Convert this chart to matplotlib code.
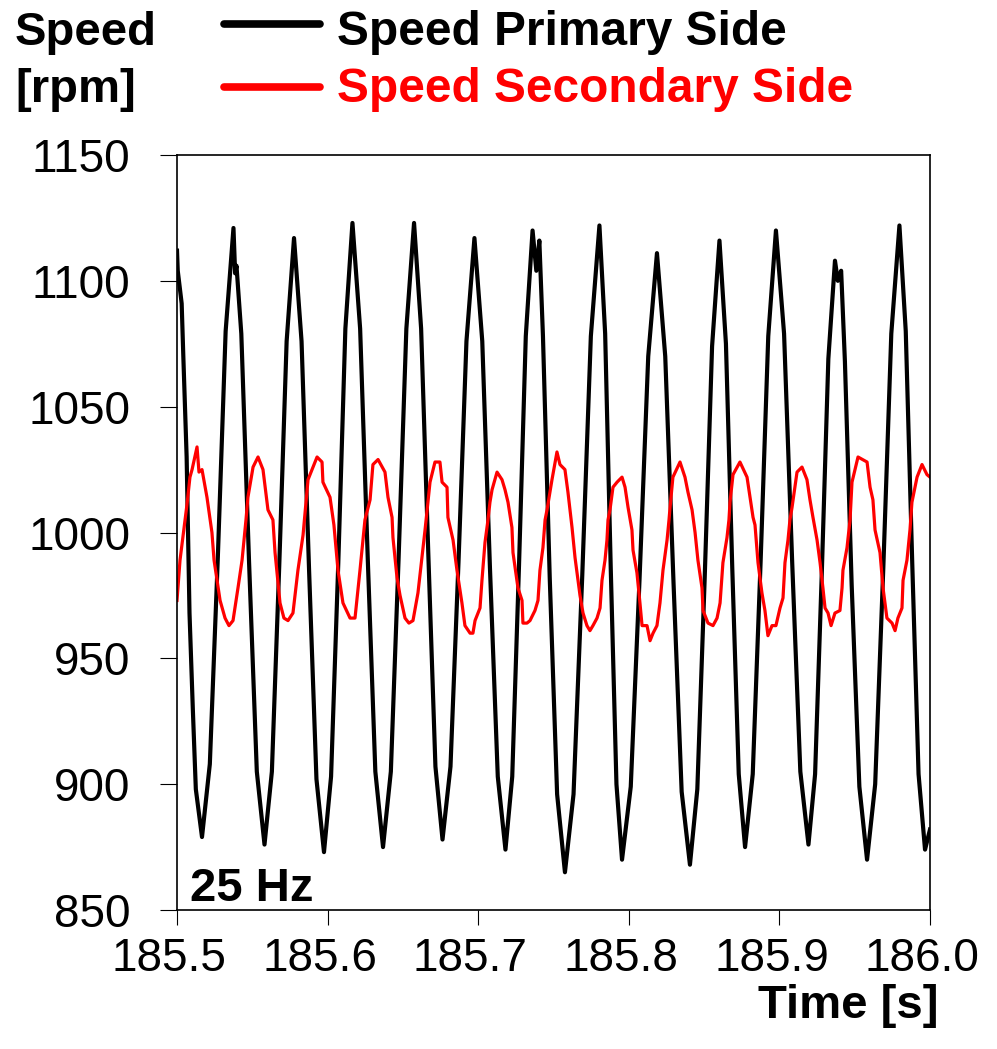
import numpy as np
import matplotlib
matplotlib.use("Agg")
import matplotlib.pyplot as plt
from matplotlib.lines import Line2D
from matplotlib.transforms import ScaledTranslation

plt.rcParams["font.family"] = ["Liberation Sans", "DejaVu Sans"]

# time axis: milliseconds after t0
t0 = 185.5

# primary side speed (black trace)
primary_ms = [0.0, 0.5, 3.1, 4.2, 6.4, 8.3, 10.5, 12.5, 16.6,
              21.8, 27.1, 32.3, 37.5, 38.6, 39.5, 42.7, 47.8, 53.0, 58.1,
              63.0, 67.9, 72.8, 77.7, 82.7, 87.7, 92.6, 97.6,
              102.3, 107.1, 111.8, 116.5, 121.6, 126.7, 131.7, 136.8,
              142.0, 147.1, 152.3, 157.4, 162.1, 166.9, 171.6, 176.3,
              181.6, 186.9, 192.2, 197.5, 202.7, 207.8, 213.0, 218.1,
              222.6, 227.1, 231.6, 236.1, 238.6, 240.6, 243.0, 247.5, 252.4, 257.6,
              263.3, 269.1, 274.8, 280.5, 284.3, 288.0, 291.8, 295.5,
              301.3, 307.1, 312.9, 318.7, 324.2, 329.7, 335.1, 340.6,
              345.5, 350.4, 355.3, 360.2, 364.5, 368.7, 373.0, 377.2,
              382.3, 387.5, 392.6, 397.7, 403.1, 408.5, 413.9, 419.3,
              423.7, 428.1, 432.5, 436.9, 438.8, 441.0, 443.5, 448.0, 453.1, 458.2,
              463.6, 469.0, 474.3, 479.7, 483.9, 488.2, 492.4, 496.7, 500.0]
primary_rpm = [1112, 1104, 1091, 1070, 1030, 968, 930, 898, 879,
               908, 990, 1080, 1121, 1103, 1106, 1079, 989, 905, 876,
               905, 987, 1076, 1117, 1076, 985, 902, 873,
               903, 988, 1081, 1123, 1081, 989, 905, 875,
               905, 989, 1081, 1123, 1081, 991, 907, 878,
               907, 988, 1076, 1117, 1076, 986, 903, 874,
               903, 987, 1078, 1120, 1104, 1116, 1078, 982, 896, 865,
               896, 983, 1078, 1122, 1079, 986, 900, 870,
               899, 981, 1070, 1111, 1070, 980, 897, 868,
               898, 982, 1074, 1116, 1075, 986, 904, 875,
               904, 988, 1078, 1120, 1079, 988, 905, 876,
               904, 983, 1069, 1108, 1100, 1104, 1068, 979, 899, 870,
               900, 986, 1079, 1122, 1080, 988, 904, 874, 882]

# secondary side speed (red trace)
secondary_ms = [0.0, 2.0, 5.3, 6.6, 8.6, 10.0, 13.3, 14.6, 16.6, 19.9,
                23.2, 24.6, 28.6, 31.9, 34.5, 37.2, 40.5, 43.2, 45.8, 47.1,
                50.5, 53.8, 57.1, 60.4, 63.7, 65.1, 68.4, 71.0, 73.7, 77.0,
                80.3, 83.7, 87.0, 93.0, 96.3, 96.9, 101.6, 104.2, 106.9, 110.2,
                114.9, 118.2, 121.5, 124.8, 128.2, 130.1, 133.5, 138.1, 140.1, 142.8,
                143.4, 146.1, 148.1, 151.4, 154.0, 156.7, 160.0, 164.7, 168.0, 171.3,
                174.6, 176.0, 179.3, 179.9, 183.3, 185.9, 189.2, 191.2, 194.6, 196.5,
                197.9, 201.2, 202.5, 204.5, 206.5, 207.8, 209.2, 212.5, 215.8, 217.8,
                219.8, 222.4, 223.1, 226.4, 229.1, 229.7, 232.4, 234.4, 237.7, 239.7,
                241.0, 243.0, 244.4, 245.7, 249.0, 252.3, 254.3, 257.6, 259.6, 262.3,
                264.3, 266.3, 267.6, 269.6, 272.2, 274.2, 276.2, 278.9, 280.9, 282.2,
                284.2, 285.5, 286.2, 287.5, 289.5, 292.2, 295.5, 297.5, 299.5, 302.1,
                302.8, 305.4, 307.4, 308.8, 312.1, 314.1, 316.1, 318.7, 320.7, 322.7,
                325.4, 326.7, 327.4, 329.3, 334.0, 337.3, 339.3, 342.0, 344.0, 345.9,
                348.6, 349.3, 352.6, 355.9, 358.6, 360.6, 362.5, 365.2, 366.5, 367.2,
                369.2, 373.8, 378.5, 380.5, 382.5, 383.8, 385.8, 388.4, 390.4, 392.4,
                395.1, 397.7, 400.4, 402.4, 403.7, 405.7, 407.0, 408.4, 411.7, 415.0,
                418.3, 420.3, 422.3, 425.0, 427.0, 428.9, 430.3, 432.3, 434.3, 436.9,
                440.2, 441.6, 442.2, 444.9, 446.9, 448.2, 452.2, 458.2, 460.2, 462.1,
                463.5, 466.8, 468.8, 471.4, 474.8, 476.8, 478.7, 481.4, 482.1, 484.7,
                486.7, 488.0, 491.4, 494.7, 498.0, 500.0]
secondary_rpm = [973, 989, 1005, 1011, 1022, 1025, 1034, 1024, 1025, 1014,
                 1000, 989, 973, 966, 963, 965, 978, 989, 1005, 1014,
                 1026, 1030, 1025, 1009, 1005, 992, 972, 966, 965, 968,
                 985, 999, 1021, 1030, 1028, 1020, 1014, 1003, 985, 972,
                 966, 966, 985, 1005, 1013, 1027, 1029, 1024, 1014, 1006,
                 998, 982, 975, 966, 964, 965, 976, 1001, 1020, 1028,
                 1028, 1020, 1018, 1006, 997, 985, 972, 963, 960, 960,
                 965, 970, 981, 996, 1005, 1012, 1017, 1024, 1021, 1017,
                 1012, 1002, 992, 978, 973, 964, 964, 965, 969, 973,
                 985, 994, 1005, 1009, 1021, 1032, 1027, 1025, 1016, 1002,
                 990, 981, 975, 968, 963, 961, 963, 966, 970, 981,
                 989, 997, 1005, 1009, 1018, 1020, 1022, 1018, 1010, 1001,
                 993, 984, 972, 963, 963, 957, 960, 963, 972, 985,
                 997, 1005, 1010, 1022, 1028, 1022, 1016, 1009, 1000, 989,
                 978, 969, 964, 963, 966, 972, 988, 998, 1005, 1012,
                 1023, 1028, 1022, 1014, 1006, 1003, 988, 976, 969, 959,
                 963, 963, 970, 974, 988, 997, 1005, 1010, 1024, 1026,
                 1021, 1013, 1006, 997, 988, 978, 970, 968, 963, 968,
                 969, 978, 985, 994, 1005, 1020, 1030, 1028, 1018, 1013,
                 1001, 992, 978, 966, 964, 961, 966, 970, 981, 989,
                 1001, 1012, 1022, 1027, 1023, 1022]

x_ticks = [185.5, 185.6, 185.7, 185.8, 185.9, 186.0]
x_labels = ["185.5", "185.6", "185.7", "185.8", "185.9", "186.0"]
y_ticks = [850, 900, 950, 1000, 1050, 1100, 1150]

W, H = 997, 1049
fig = plt.figure(figsize=(W / 100, H / 100), dpi=100)
ax = fig.add_axes([177 / W, 1 - 910 / H, 753 / W, 755 / H])

t_primary = t0 + np.array(primary_ms) / 1000.0
t_secondary = t0 + np.array(secondary_ms) / 1000.0

ax.plot(t_primary, primary_rpm, color="black", lw=3.0)
ax.plot(t_secondary, secondary_rpm, color="#ff0000", lw=2.3)

ax.set_xlim(185.5, 186.0)
ax.set_ylim(850, 1150)
ax.set_xticks(x_ticks)
ax.set_xticklabels(x_labels)
ax.set_yticks(y_ticks)
ax.tick_params(direction="out", width=0.8, labelsize=33)
ax.tick_params(axis="x", length=11, pad=8.3)
ax.tick_params(axis="y", length=12, pad=21.5)
for sp in ax.spines.values():
    sp.set_linewidth(1.2)

# x tick labels sit slightly left of their ticks
shift = ScaledTranslation(-8 / 100, 0, fig.dpi_scale_trans)
for lab in ax.get_xticklabels():
    lab.set_transform(lab.get_transform() + shift)

ax.text(13 / 753, 9 / 755, "25 Hz", transform=ax.transAxes,
        fontsize=34, fontweight="bold", ha="left", va="baseline")

# axis captions
fig.text(15 / W, 1 - 45 / H, "Speed", fontsize=34, fontweight="bold",
         ha="left", va="baseline")
fig.text(15 / W, 1 - 102 / H, "[rpm]", fontsize=34, fontweight="bold",
         ha="left", va="baseline")
fig.text(938 / W, 1 - 1018 / H, "Time [s]", fontsize=34, fontweight="bold",
         ha="right", va="baseline")

# legend
for y, base, col, label in [(24, 45, "black", "Speed Primary Side"),
                            (87, 102, "#ff0000", "Speed Secondary Side")]:
    fig.add_artist(Line2D([224 / W, 320 / W], [1 - y / H, 1 - y / H],
                          color=col, lw=5.5, solid_capstyle="round"))
    fig.text(337 / W, 1 - base / H, label, color=col, fontsize=34.5,
             fontweight="bold", ha="left", va="baseline")

fig.savefig("out.png", dpi=100)
